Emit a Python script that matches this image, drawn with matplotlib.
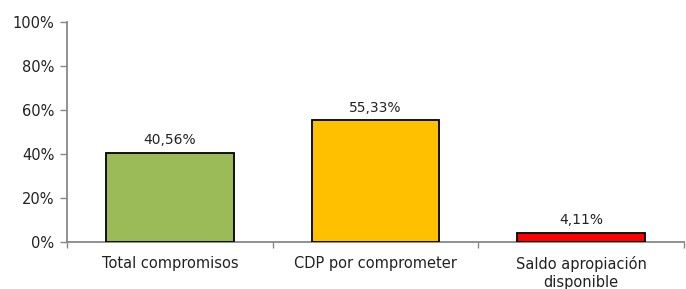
import matplotlib
matplotlib.use("Agg")
import matplotlib.pyplot as plt
from matplotlib.ticker import FixedLocator

categories = ["Total compromisos", "CDP por comprometer", "Saldo apropiación\ndisponible"]
values = [40.56, 55.33, 4.11]
value_labels = ["40,56%", "55,33%", "4,11%"]
colors = ["#9BBB59", "#FFC000", "#FF0000"]
yticks = [0, 20, 40, 60, 80, 100]

plt.rcParams['font.family'] = ['DejaVu Sans']
fig = plt.figure(figsize=(6.86, 2.89), dpi=100)
ax = fig.add_axes([67/686, 47/289, 617/686, 220/289])

x = list(range(len(categories)))
ax.bar(x, values, width=0.62, color=colors, edgecolor="black", linewidth=1.3, zorder=3)
for xi, v, lab in zip(x, values, value_labels):
    ax.annotate(lab, (xi, v), xytext=(0, 4), textcoords="offset points",
                ha="center", va="bottom", fontsize=10, color="#222222")

ax.set_xlim(-0.5, len(categories) - 0.5)
ax.set_ylim(0, 100)
ax.set_yticks(yticks)
ax.set_yticklabels([f"{t}%" for t in yticks])
ax.set_xticks(x)
ax.set_xticklabels(categories, linespacing=1.25)
ax.xaxis.set_minor_locator(FixedLocator([i - 0.5 for i in range(len(categories) + 1)]))
ax.tick_params(axis="x", which="major", length=0, pad=10, labelsize=10.5, colors="#222222")
ax.tick_params(axis="x", which="minor", length=4, color="#888888", width=1)
ax.tick_params(axis="y", length=5, color="#888888", width=1, labelsize=10.5, labelcolor="#222222", pad=4)

for s in ["top", "right"]:
    ax.spines[s].set_visible(False)
for s in ["left", "bottom"]:
    ax.spines[s].set_color("#888888")
    ax.spines[s].set_linewidth(1.3)

fig.savefig("out.png", dpi=100)
